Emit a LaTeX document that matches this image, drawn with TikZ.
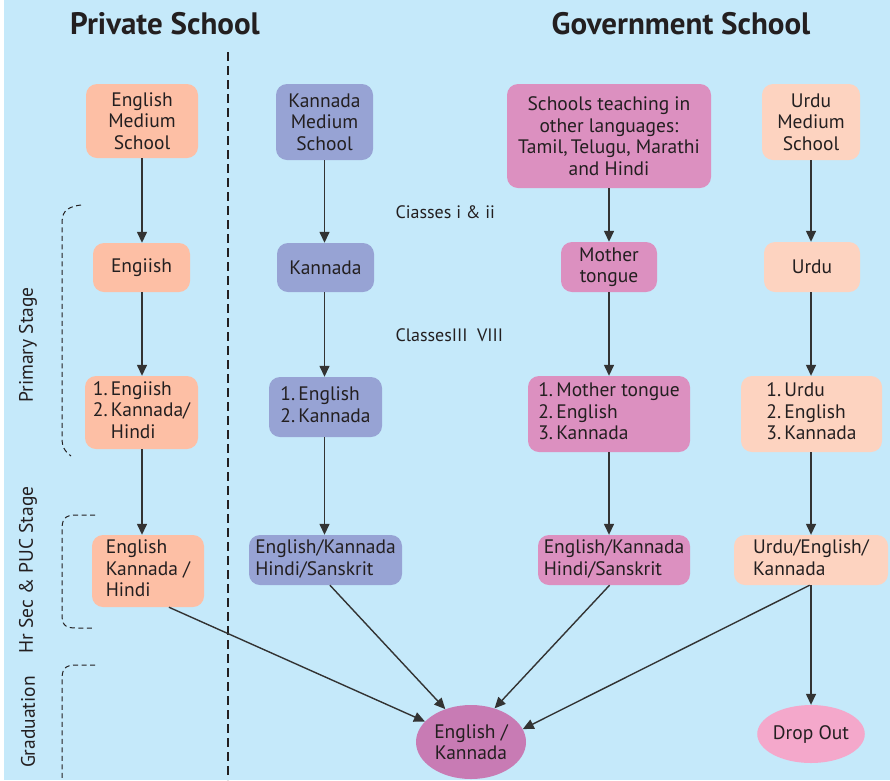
\documentclass[tikz,border=0pt]{standalone}
\usepackage{fontspec}
\setmainfont{PT Sans}
\usetikzlibrary{arrows.meta,shapes.geometric}
\definecolor{bgblue}{HTML}{C5E9FA}
\definecolor{privfill}{HTML}{FDBFA5}
\definecolor{kanfill}{HTML}{97A3D4}
\definecolor{othfill}{HTML}{DC90C0}
\definecolor{urdfill}{HTML}{FDD3C0}
\definecolor{gradfill}{HTML}{C87BB4}
\definecolor{dropfill}{HTML}{F4A8CB}
\definecolor{ink}{HTML}{231F20}
\definecolor{linec}{HTML}{333333}
\tikzset{
  box/.style={rounded corners=11pt, inner sep=0pt, align=center, text=ink,
    font=\fontsize{19.5}{21.5}\selectfont},
  pbox/.style={box, fill=privfill},
  kbox/.style={box, fill=kanfill},
  obox/.style={box, fill=othfill},
  ubox/.style={box, fill=urdfill},
  oval/.style={ellipse, inner sep=0pt, align=center, text=ink,
    font=\fontsize{19.5}{21.5}\selectfont},
  flow/.style={draw=linec, line width=1.4pt, -{Triangle[length=11pt,width=10pt]}},
  bracket/.style={draw=ink, line width=1pt, dash pattern=on 5pt off 3.5pt},
  stage/.style={rotate=90, text=ink, font=\fontsize{19.5}{22}\selectfont},
  title/.style={text=ink, font=\fontsize{31}{34}\selectfont\bfseries},
  classlbl/.style={anchor=west, text=ink, font=\fontsize{18}{21}\selectfont}
}
\newcommand{\lst}[1]{\begin{tabular}{@{}l@{\,}l@{}}#1\end{tabular}}
\begin{document}
\begin{tikzpicture}[x=1pt,y=-1pt]
\useasboundingbox (0,0) rectangle (890,780);
\fill[white] (0,0) rectangle (890,780);
\fill[bgblue] (4,0) rectangle (890,780);

% titles
\node[title] (tp) at (165,24) {Private School};
\node[title] (tg) at (681,24) {Government School};

% divider
\coordinate (dv1) at (228,52);
\coordinate (dv2) at (228,780);
\draw[ink, line width=2.5pt, dash pattern=on 9pt off 5pt] (dv1) -- (dv2);

% private column
\node[pbox, minimum width=112pt, minimum height=74pt] (P1) at (142,121) {English\\Medium\\School};
\node[pbox, minimum width=97pt, minimum height=49pt] (P2) at (141.5,267.5) {Engiish};
\node[pbox, minimum width=113pt, minimum height=73pt] (P3) at (141.5,412.5) {\lst{1.&Engiish\\2.&Kannada/\\&Hindi}};
\node[pbox, minimum width=112pt, minimum height=72pt] (P4) at (148,571) {\begin{tabular}{@{}l@{}}English\\Kannada /\\Hindi\end{tabular}};

% kannada column
\node[kbox, minimum width=97pt, minimum height=76pt] (K1) at (324.5,122) {Kannada\\Medium\\School};
\node[kbox, minimum width=97pt, minimum height=49pt] (K2) at (325.5,267.5) {Kannada};
\node[kbox, minimum width=113pt, minimum height=60pt] (K3) at (325.5,407) {\lst{1.&English\\2.&Kannada}};
\node[kbox, minimum width=153pt, minimum height=50pt] (K4) at (325.5,560) {\begin{tabular}{@{}l@{}}English/Kannada\\Hindi/Sanskrit\end{tabular}};

% other languages column
\node[obox, minimum width=204pt, minimum height=104pt] (O1) at (609,136) {Schools teaching in\\other languages:\\Tamil,\,Telugu, Marathi\\and Hindi};
\node[obox, minimum width=96pt, minimum height=50pt] (O2) at (609,267) {Mother\\tongue};
\node[obox, minimum width=162pt, minimum height=76pt] (O3) at (609,414) {\lst{1.&Mother tongue\\2.&English\\3.&Kannada}};
\node[obox, minimum width=152pt, minimum height=50pt] (O4) at (614,560) {\begin{tabular}{@{}l@{}}English/Kannada\\Hindi/Sanskrit\end{tabular}};

% urdu column
\node[ubox, minimum width=98pt, minimum height=76pt] (U1) at (811,122) {Urdu\\Medium\\School};
\node[ubox, minimum width=96pt, minimum height=50pt] (U2) at (812,267) {Urdu};
\node[ubox, minimum width=141pt, minimum height=76pt] (U3) at (811.5,414) {\lst{1.&Urdu\\2.&English\\3.&Kannada}};
\node[ubox, minimum width=154pt, minimum height=50pt] (U4) at (811,560) {\begin{tabular}{@{}l@{}}Urdu/English/\\Kannada\end{tabular}};

% ovals
\node[oval, fill=gradfill, minimum width=110pt, minimum height=74pt] (E1) at (471,742) {English /\\Kannada};
\node[oval, fill=dropfill, minimum width=100pt, minimum height=58pt] (D1) at (811,734) {Drop Out};

% class labels
\node[classlbl] (c1) at (392,212) {Ciasses i \& ii};
\node[classlbl] (c2) at (392,335) {ClassesIII\ \ VIII};

% stage labels
\node[stage] (s1) at (28,345) {Primary Stage};
\node[stage] (s2) at (28,570) {Hr Sec \& PUC Stage};
\node[stage] (s3) at (28,722) {Graduation};

% brackets
\draw[bracket] (81,205) .. controls (64,207) and (62,214) .. (62,224) -- (62,438) .. controls (62,447) and (65,452) .. (71,456);
\draw[bracket] (95,515) -- (76,515) .. controls (64,515) and (62,520) .. (62,530) -- (62,614) .. controls (62,624) and (64,628) .. (76,628) -- (95,628);
\draw[bracket] (95,665) -- (76,665) .. controls (64,665) and (62,670) .. (62,680) -- (62,780);

% vertical flows
\draw[flow] (P1.south) -- (P1.south |- P2.north);
\draw[flow] (P2.south -| P1.south) -- (P1.south |- P3.north);
\draw[flow] (P3.south -| P1.south) -- (P1.south |- P4.north);
\draw[flow] (K1.south) -- (K1.south |- K2.north);
\draw[flow] (K2.south -| K1.south) -- (K1.south |- K3.north);
\draw[flow] (K3.south -| K1.south) -- (K1.south |- K4.north);
\draw[flow] (O1.south) -- (O2.north);
\draw[flow] (O2.south) -- (O3.north);
\draw[flow] (O3.south) -- (O3.south |- O4.north);
\draw[flow] (U1.south) -- (U1.south |- U2.north);
\draw[flow] (U2.south -| U1.south) -- (U1.south |- U3.north);
\draw[flow] (U3.south -| U1.south) -- (U1.south |- U4.north);
\draw[flow] (U4.south) -- (U4.south |- D1.north);

% converging flows
\draw[flow] (P4.300) -- (E1.156);
\draw[flow] (K4.-80) -- (E1.128);
\draw[flow] (O4.-100) -- (E1.55);
\draw[flow] (U4.-93) -- (E1.14);
\end{tikzpicture}
\end{document}
